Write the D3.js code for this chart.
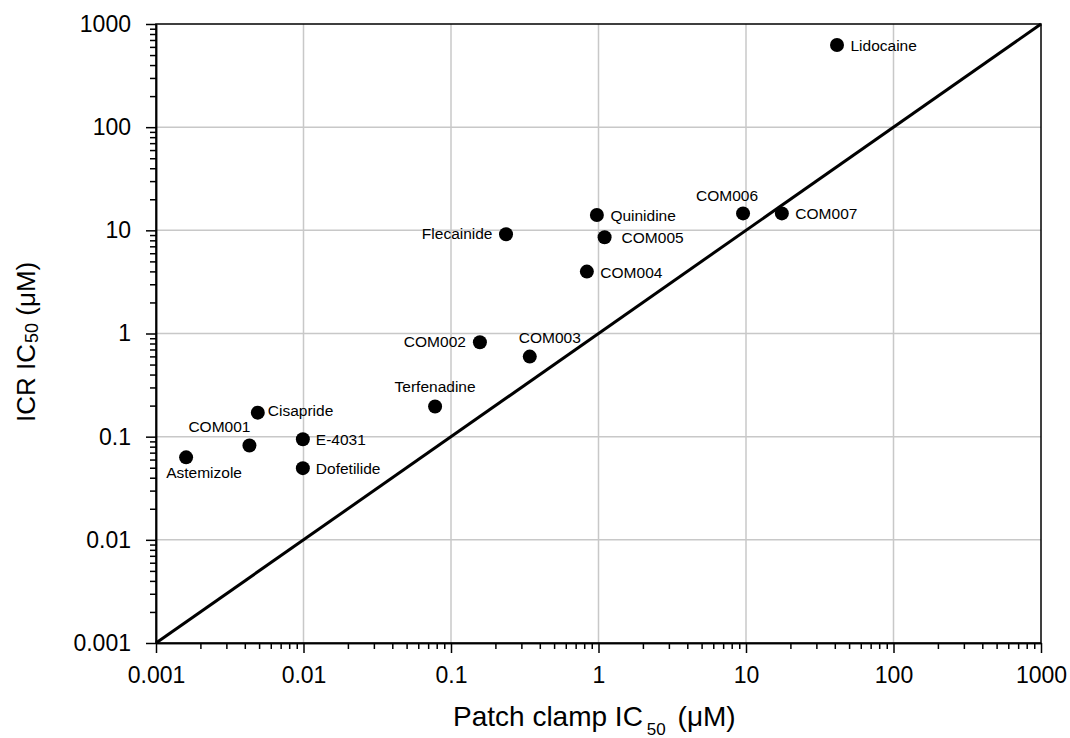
<!DOCTYPE html>
<html>
<head>
<meta charset="utf-8">
<script src="https://cdn.jsdelivr.net/npm/d3@7"></script>
<style>
    body { margin: 0; background: #fff; }
    svg { display: block; font-family: "Liberation Sans", Arial, sans-serif; }
</style>
</head>
<body>
<div id="chart"></div>
<script>
const drugs = ["Astemizole", "COM001", "Cisapride", "E-4031", "Dofetilide", "Terfenadine",
    "COM002", "COM003", "Flecainide", "COM004", "Quinidine", "COM005", "COM006", "COM007", "Lidocaine"];
const patchClamp = [0.0016, 0.0043, 0.0049, 0.0099, 0.0099, 0.078,
    0.157, 0.342, 0.236, 0.834, 0.975, 1.10, 9.55, 17.5, 41.4];
const icr = [0.063, 0.082, 0.171, 0.0945, 0.0495, 0.196,
    0.822, 0.597, 9.16, 3.98, 14.1, 8.57, 14.6, 14.6, 626];
const decades = [0.001, 0.01, 0.1, 1, 10, 100, 1000];
const tickLabels = ["0.001", "0.01", "0.1", "1", "10", "100", "1000"];
const unity = [0.001, 1000];

// where each label sits relative to its dot: [dx, dy, anchor]
const labelPlace = [
    [18, 21, "middle"], [-30, -14, "middle"], [10, 3, "start"], [13, 6, "start"], [13, 6, "start"],
    [0, -15, "middle"], [-14, 5, "end"], [20, -14, "middle"], [-13.5, 5, "end"], [13.5, 6, "start"],
    [13.5, 6, "start"], [17, 5.5, "start"], [-16, -12, "middle"], [13.5, 6, "start"], [13.5, 6, "start"]
];

const data = drugs.map((name, i) => ({ name: name, x: patchClamp[i], y: icr[i], place: labelPlace[i] }));

const margin = { top: 24, right: 29, bottom: 95, left: 156 };
const width = 1070 - margin.left - margin.right;
const height = 738 - margin.top - margin.bottom;

const root = d3.select("#chart")
    .append("svg")
    .attr("width", width + margin.left + margin.right)
    .attr("height", height + margin.top + margin.bottom);

const svg = root.append("g")
    .attr("transform", `translate(${margin.left},${margin.top})`);

const xScale = d3.scaleLog().domain([0.001, 1000]).range([0, width]);
const yScale = d3.scaleLog().domain([0.001, 1000]).range([height, 0]);

const isDecade = t => decades.some(d => Math.abs(t / d - 1) < 1e-9);
const minorX = xScale.ticks().filter(t => !isDecade(t));
const minorY = yScale.ticks().filter(t => !isDecade(t));

// grid
svg.append("g")
    .selectAll("line")
    .data(decades.slice(1, -1))
    .enter()
    .append("line")
    .attr("x1", d => xScale(d))
    .attr("x2", d => xScale(d))
    .attr("y1", 0)
    .attr("y2", height)
    .attr("stroke", "#c8c8c8")
    .attr("stroke-width", 1.5);

svg.append("g")
    .selectAll("line")
    .data(decades.slice(1, -1))
    .enter()
    .append("line")
    .attr("x1", 0)
    .attr("x2", width)
    .attr("y1", d => yScale(d))
    .attr("y2", d => yScale(d))
    .attr("stroke", "#c8c8c8")
    .attr("stroke-width", 1.5);

// line of identity
const line = d3.line()
    .x(d => xScale(d))
    .y(d => yScale(d));

svg.append("path")
    .datum(unity)
    .attr("d", line)
    .attr("fill", "none")
    .attr("stroke", "#000")
    .attr("stroke-width", 3);

svg.append("rect")
    .attr("width", width)
    .attr("height", height)
    .attr("fill", "none")
    .attr("stroke", "#000")
    .attr("stroke-width", 1.5);

// axes
const styleAxis = g => {
    g.attr("font-size", 23).attr("font-family", "Liberation Sans, Arial, sans-serif");
    g.selectAll("line, path").attr("stroke", "#000").attr("stroke-width", 1.5);
    g.selectAll("text").attr("fill", "#000");
};

svg.append("g")
    .attr("transform", `translate(0,${height})`)
    .call(d3.axisBottom(xScale).tickValues(minorX).tickSize(6).tickSizeOuter(0).tickFormat(""))
    .call(styleAxis);

svg.append("g")
    .attr("transform", `translate(0,${height})`)
    .call(d3.axisBottom(xScale).tickValues(decades).tickSize(10).tickSizeOuter(0)
        .tickPadding(14).tickFormat((d, i) => tickLabels[i]))
    .call(styleAxis);

svg.append("g")
    .call(d3.axisLeft(yScale).tickValues(minorY).tickSize(6).tickSizeOuter(0).tickFormat(""))
    .call(styleAxis);

svg.append("g")
    .call(d3.axisLeft(yScale).tickValues(decades).tickSize(10).tickSizeOuter(0)
        .tickPadding(15).tickFormat((d, i) => tickLabels[i]))
    .call(styleAxis);

// points
svg.selectAll(".dot")
    .data(data)
    .enter()
    .append("circle")
    .attr("class", "dot")
    .attr("cx", d => xScale(d.x))
    .attr("cy", d => yScale(d.y))
    .attr("r", 7)
    .attr("fill", "#000");

svg.selectAll(".label")
    .data(data)
    .enter()
    .append("text")
    .attr("class", "label")
    .attr("x", d => xScale(d.x) + d.place[0])
    .attr("y", d => yScale(d.y) + d.place[1])
    .attr("text-anchor", d => d.place[2])
    .attr("font-size", 15.5)
    .attr("fill", "#000")
    .text(d => d.name);

// axis titles
const xTitle = root.append("text")
    .attr("x", 453)
    .attr("y", 726)
    .attr("font-size", 28)
    .attr("fill", "#000");
xTitle.append("tspan").text("Patch clamp IC");
xTitle.append("tspan").attr("dx", 4).attr("dy", 9).attr("font-size", 17).text("50");
xTitle.append("tspan").attr("dx", 4).attr("dy", -9).text(" (μM)");

const yTitle = root.append("text")
    .attr("transform", "translate(35,422) rotate(-90)")
    .attr("font-size", 26)
    .attr("fill", "#000");
yTitle.append("tspan").text("ICR IC");
yTitle.append("tspan").attr("dx", 1).attr("dy", 3).attr("font-size", 18).text("50");
yTitle.append("tspan").attr("dy", -3).text(" (μM)");
</script>
</body>
</html>
